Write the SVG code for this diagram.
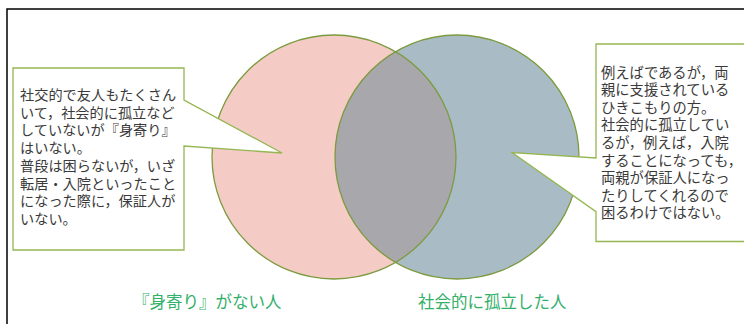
<svg xmlns="http://www.w3.org/2000/svg" width="744" height="324" viewBox="0 0 744 324">
<style>
.txt{font-family:"Noto Sans CJK JP","Noto Sans",sans-serif;fill:#3A3A3A}
.lbl{font-family:"Noto Sans CJK JP","Noto Sans",sans-serif;fill:#33B06A;font-size:16.5px}
.circ{stroke:#7C9B3E;stroke-width:1.3}
.call{fill:#FFFFFF;stroke:#95B653;stroke-width:1.3}
</style>
<rect x="0" y="0" width="744" height="324" fill="#FFFFFF"/>
<path d="M7 330 V9 H760" fill="none" stroke="#000000" stroke-width="1.5"/>
<g id="circle-left">
<circle cx="334" cy="157" r="122" fill="#F5CBC6"/>
</g>
<g id="circle-right">
<circle cx="457" cy="157" r="122" fill="#A9BCC6"/>
</g>
<g id="overlap">
<path d="M395.5 51.6 A122 122 0 0 1 395.5 262.4 A122 122 0 0 1 395.5 51.6 Z" fill="#A8A7AC"/>
<circle cx="334" cy="157" r="122" fill="none" class="circ"/>
<circle cx="457" cy="157" r="122" fill="none" class="circ"/>
</g>
<g id="callout-left">
<path class="call" d="M13 68 H184 V100 L282 153 L184 146 V250 H13 Z"/>
<text class="txt" font-size="14.2">
<tspan x="20" y="100">社交的で友人もたくさん</tspan>
<tspan x="20" y="117.7">いて，社会的に孤立など</tspan>
<tspan x="20" y="135.4">していないが『身寄り』</tspan>
<tspan x="20" y="153.1">はいない。</tspan>
<tspan x="20" y="170.8">普段は困らないが，いざ</tspan>
<tspan x="20" y="188.5">転居・入院といったこと</tspan>
<tspan x="20" y="206.2">になった際に，保証人が</tspan>
<tspan x="20" y="223.9">いない。</tspan>
</text>
</g>
<g id="callout-right">
<path class="call" d="M596 44 H760 V241.5 H596 V211.7 L512 152.5 L596 158 Z"/>
<text class="txt" font-size="14.3">
<tspan x="601" y="77.5">例えばであるが，両</tspan>
<tspan x="601" y="95.1">親に支援されている</tspan>
<tspan x="601" y="112.7">ひきこもりの方。</tspan>
<tspan x="601" y="130.3">社会的に孤立してい</tspan>
<tspan x="601" y="147.9">るが，例えば，入院</tspan>
<tspan x="601" y="165.5">することになっても，</tspan>
<tspan x="601" y="183.1">両親が保証人になっ</tspan>
<tspan x="601" y="200.7">たりしてくれるので</tspan>
<tspan x="601" y="218.3">困るわけではない。</tspan>
</text>
</g>
<g id="label-left">
<text class="lbl" x="133" y="308">『身寄り』がない人</text>
</g>
<g id="label-right">
<text class="lbl" x="418" y="308">社会的に孤立した人</text>
</g>
</svg>
